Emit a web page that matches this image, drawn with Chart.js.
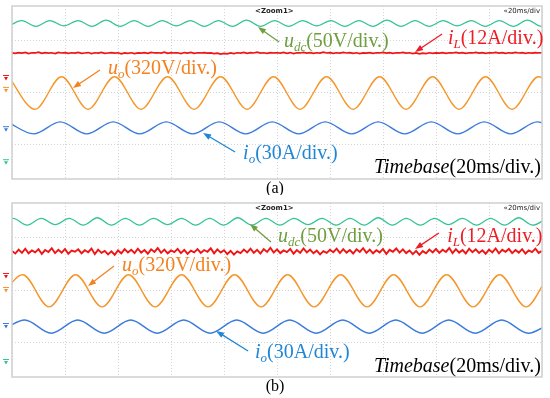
<!DOCTYPE html>
<html lang="en">
<head>
<meta charset="UTF-8">
<title>Scope captures</title>
<script src="https://cdn.jsdelivr.net/npm/chart.js"></script>
<style>
  body { margin: 0; background: #fff; }
  canvas { display: block; }
</style>
</head>
<body>
<canvas id="scopeA" width="550" height="195"></canvas>
<canvas id="scopeB" width="550" height="203"></canvas>
<script>
// time axis in ms (10 div x 20 ms), vertical axis in screen divisions
const gridTimes = [0, 20, 40, 60, 80, 100, 120, 140, 160, 180, 200];
const gridLevels = [-1, 0, 1];
const redStepMs = 1.25;

// ---- panel (a) ----
const udcA_t = [-1.6, 3.7, 9.0, 14.3, 19.6, 24.9, 30.2, 35.5, 40.8, 46.1, 51.4, 56.7, 62.0, 67.3, 72.6, 77.9, 83.2, 88.5, 93.8, 99.1,
  104.4, 109.7, 115.0, 120.3, 125.6, 130.9, 136.2, 141.5, 146.8, 152.1, 157.4, 162.7, 168.0, 173.3, 178.6, 183.9, 189.2, 194.5, 199.8, 205.1];
const udcA_v = [1.26, 1.37, 1.26, 1.37, 1.27, 1.37, 1.26, 1.38, 1.26, 1.37, 1.26, 1.37, 1.27, 1.37, 1.26, 1.37, 1.26, 1.38, 1.26, 1.37,
  1.26, 1.37, 1.27, 1.37, 1.26, 1.37, 1.26, 1.38, 1.26, 1.37, 1.26, 1.37, 1.27, 1.37, 1.26, 1.37, 1.26, 1.38, 1.26, 1.37];
const iLA_v = [
  0.758, 0.746, 0.762, 0.750, 0.766, 0.742, 0.758, 0.754, 0.770, 0.746,
  0.762, 0.750, 0.758, 0.742, 0.766, 0.754, 0.762, 0.746, 0.758, 0.750,
  0.766, 0.746, 0.754, 0.762, 0.742, 0.758, 0.750, 0.766, 0.746, 0.754,
  0.762, 0.750, 0.758, 0.738, 0.754, 0.746, 0.758, 0.742, 0.754, 0.750,
  0.762, 0.746, 0.766, 0.754, 0.758, 0.750, 0.770, 0.746, 0.762, 0.754,
  0.758, 0.742, 0.762, 0.750, 0.766, 0.746, 0.758, 0.754, 0.762, 0.750,
  0.754, 0.742, 0.750, 0.733, 0.746, 0.738, 0.754, 0.742, 0.758, 0.750,
  0.766, 0.746, 0.762, 0.754, 0.770, 0.750, 0.758, 0.746, 0.762, 0.754,
  0.758, 0.750, 0.766, 0.746, 0.762, 0.742, 0.758, 0.754, 0.766, 0.750,
  0.762, 0.746, 0.758, 0.750, 0.770, 0.754, 0.762, 0.746, 0.758, 0.750,
  0.766, 0.754, 0.762, 0.746, 0.758, 0.742, 0.754, 0.750, 0.762, 0.746,
  0.758, 0.754, 0.766, 0.750, 0.762, 0.746, 0.758, 0.754, 0.766, 0.750,
  0.758, 0.742, 0.754, 0.738, 0.750, 0.742, 0.758, 0.746, 0.754, 0.750,
  0.762, 0.746, 0.758, 0.754, 0.766, 0.750, 0.762, 0.746, 0.758, 0.754,
  0.766, 0.750, 0.762, 0.746, 0.758, 0.754, 0.766, 0.750, 0.762, 0.746,
  0.758, 0.750, 0.766, 0.754, 0.762, 0.746, 0.758, 0.750, 0.762, 0.754,
  0.758];
const uoA_t = [-1.3, 8.7, 18.7, 28.7, 38.7, 48.7, 58.7, 68.7, 78.7, 88.7, 98.7, 108.7, 118.7, 128.7, 138.7, 148.7, 158.7, 168.7, 178.7, 188.7, 198.7, 208.7];
const uoA_v = [0.30, -0.32, 0.30, -0.32, 0.30, -0.32, 0.30, -0.32, 0.30, -0.32, 0.30, -0.32, 0.30, -0.32, 0.30, -0.32, 0.30, -0.32, 0.30, -0.32, 0.30, -0.32];
const ioA_t = [-1.8, 8.2, 18.2, 28.2, 38.2, 48.2, 58.2, 68.2, 78.2, 88.2, 98.2, 108.2, 118.2, 128.2, 138.2, 148.2, 158.2, 168.2, 178.2, 188.2, 198.2, 208.2];
const ioA_v = [-0.56, -0.79, -0.56, -0.79, -0.56, -0.79, -0.56, -0.79, -0.56, -0.79, -0.56, -0.79, -0.56, -0.79, -0.56, -0.79, -0.56, -0.79, -0.56, -0.79, -0.56, -0.79];

// ---- panel (b) ----
const udcB_t = [-4.9, 0.4, 5.7, 11.0, 16.3, 21.6, 26.9, 32.2, 37.5, 42.8, 48.1, 53.4, 58.7, 64.0, 69.3, 74.6, 79.9, 85.2, 90.5, 95.8,
  101.1, 106.4, 111.7, 117.0, 122.3, 127.6, 132.9, 138.2, 143.5, 148.8, 154.1, 159.4, 164.7, 170.0, 175.3, 180.6, 185.9, 191.2, 196.5, 201.8];
const udcB_v = [1.23, 1.36, 1.23, 1.36, 1.24, 1.36, 1.23, 1.37, 1.23, 1.36, 1.23, 1.36, 1.24, 1.36, 1.23, 1.36, 1.23, 1.37, 1.23, 1.36,
  1.23, 1.36, 1.24, 1.36, 1.23, 1.36, 1.23, 1.37, 1.23, 1.36, 1.23, 1.36, 1.24, 1.36, 1.23, 1.36, 1.23, 1.37, 1.23, 1.36];
const iLB_v = [
  0.742, 0.692, 0.766, 0.704, 0.783, 0.696, 0.750, 0.713, 0.775, 0.684,
  0.758, 0.721, 0.792, 0.700, 0.762, 0.709, 0.779, 0.688, 0.746, 0.725,
  0.771, 0.696, 0.754, 0.717, 0.787, 0.680, 0.766, 0.704, 0.742, 0.676,
  0.734, 0.668, 0.750, 0.696, 0.775, 0.713, 0.762, 0.700, 0.783, 0.709,
  0.758, 0.688, 0.771, 0.721, 0.796, 0.704, 0.766, 0.696, 0.750, 0.717,
  0.779, 0.700, 0.762, 0.684, 0.746, 0.713, 0.775, 0.704, 0.758, 0.725,
  0.792, 0.696, 0.771, 0.709, 0.754, 0.680, 0.742, 0.672, 0.734, 0.700,
  0.766, 0.713, 0.783, 0.704, 0.762, 0.692, 0.775, 0.721, 0.800, 0.709,
  0.771, 0.700, 0.750, 0.717, 0.779, 0.688, 0.758, 0.704, 0.787, 0.713,
  0.766, 0.696, 0.746, 0.676, 0.738, 0.704, 0.762, 0.717, 0.783, 0.700,
  0.775, 0.709, 0.758, 0.692, 0.771, 0.721, 0.792, 0.704, 0.766, 0.696,
  0.754, 0.713, 0.779, 0.684, 0.762, 0.725, 0.787, 0.709, 0.771, 0.700,
  0.750, 0.680, 0.742, 0.668, 0.738, 0.696, 0.766, 0.713, 0.779, 0.704,
  0.762, 0.721, 0.796, 0.700, 0.775, 0.709, 0.758, 0.692, 0.783, 0.717,
  0.771, 0.704, 0.754, 0.688, 0.766, 0.713, 0.787, 0.696, 0.762, 0.725,
  0.779, 0.700, 0.758, 0.709, 0.775, 0.692, 0.750, 0.717, 0.783, 0.704,
  0.742];
const uoB_t = [-6, 4, 14, 24, 34, 44, 54, 64, 74, 84, 94, 104, 114, 124, 134, 144, 154, 164, 174, 184, 194, 204, 214];
const uoB_v = [-0.32, 0.29, -0.32, 0.29, -0.32, 0.29, -0.32, 0.29, -0.32, 0.29, -0.32, 0.29, -0.32, 0.29, -0.32, 0.29, -0.32, 0.29, -0.32, 0.29, -0.32, 0.29, -0.32];
const ioB_t = [-5.2, 4.8, 14.8, 24.8, 34.8, 44.8, 54.8, 64.8, 74.8, 84.8, 94.8, 104.8, 114.8, 124.8, 134.8, 144.8, 154.8, 164.8, 174.8, 184.8, 194.8, 204.8];
const ioB_v = [-0.82, -0.57, -0.82, -0.57, -0.82, -0.57, -0.82, -0.57, -0.82, -0.57, -0.82, -0.57, -0.82, -0.57, -0.82, -0.57, -0.82, -0.57, -0.82, -0.57, -0.82, -0.57];

// colours
const cUdc = '#33c493', cIL = '#f01414', cUo = '#f5962a', cIo = '#3a7bdc';
const tUdc = '#6f9f3f', tIL = '#ee1c25', tUo = '#f58220', tIo = '#1f86d6';

function pairs(ts, vs) { return ts.map((t, i) => ({x: t, y: vs[i]})); }
function redPairs(vs) { return vs.map((v, i) => ({x: i * redStepMs, y: v})); }

function richFont(p) {
  const size = p.sub ? 13 : 20;
  return (p.it ? 'italic ' : '') + size + 'px "Liberation Serif"';
}

function drawRich(ctx, parts, px, py, align) {
  let w = 0;
  parts.forEach(p => { ctx.font = richFont(p); w += ctx.measureText(p.t).width; });
  let cx = align === 'right' ? px - w : px;
  parts.forEach(p => {
    ctx.font = richFont(p);
    ctx.fillText(p.t, cx, py + (p.sub ? 5.5 : 0));
    cx += ctx.measureText(p.t).width;
  });
}

function drawArrow(ctx, x1, y1, x2, y2, color) {
  const ang = Math.atan2(y2 - y1, x2 - x1), L = 8, W = 3;
  ctx.strokeStyle = color; ctx.fillStyle = color; ctx.lineWidth = 1.3;
  ctx.beginPath();
  ctx.moveTo(x1, y1);
  ctx.lineTo(x2 - L * 0.8 * Math.cos(ang), y2 - L * 0.8 * Math.sin(ang));
  ctx.stroke();
  ctx.beginPath();
  ctx.moveTo(x2, y2);
  ctx.lineTo(x2 - L * Math.cos(ang) + W * Math.sin(ang), y2 - L * Math.sin(ang) - W * Math.cos(ang));
  ctx.lineTo(x2 - L * Math.cos(ang) - W * Math.sin(ang), y2 - L * Math.sin(ang) + W * Math.cos(ang));
  ctx.closePath();
  ctx.fill();
}

// frame, channel markers, labels with arrows, caption
const scopeNotes = {
  id: 'scopeNotes',
  afterDraw(chart, args, opts) {
    const {ctx, chartArea: a, scales: {x, y}} = chart;
    ctx.save();
    ctx.strokeStyle = '#cfcfcf';
    ctx.lineWidth = 1.5;
    ctx.strokeRect(a.left, a.top, a.right - a.left, a.bottom - a.top);

    // header texts
    ctx.fillStyle = '#222';
    ctx.textBaseline = 'middle';
    ctx.font = 'bold 7px "DejaVu Sans"';
    ctx.textAlign = 'center';
    ctx.fillText('<Zoom1>', x.getPixelForValue(99), y.getPixelForValue(opts.headY));
    ctx.textAlign = 'right';
    ctx.font = '7px "DejaVu Sans"';
    ctx.fillText('\u00AB20ms/div', x.getPixelForValue(199.3), y.getPixelForValue(opts.headY));

    // channel reference markers left of the grid
    opts.markers.forEach(m => {
      const py = y.getPixelForValue(m.y), px = a.left - 6;
      ctx.fillStyle = m.c; ctx.strokeStyle = m.c; ctx.lineWidth = 1;
      ctx.beginPath(); ctx.moveTo(px - 3, py - 2.5); ctx.lineTo(px + 3, py - 2.5); ctx.stroke();
      ctx.beginPath(); ctx.moveTo(px - 2, py - 1); ctx.lineTo(px + 2, py - 1); ctx.lineTo(px, py + 2.5); ctx.closePath(); ctx.fill();
    });

    // labels and arrows
    ctx.textAlign = 'left';
    opts.labels.forEach(l => {
      ctx.fillStyle = l.c;
      drawRich(ctx, l.parts, x.getPixelForValue(l.x), y.getPixelForValue(l.y), l.align);
      if (l.arrow) {
        const [x1, y1, x2, y2] = l.arrow;
        drawArrow(ctx, x.getPixelForValue(x1), y.getPixelForValue(y1), x.getPixelForValue(x2), y.getPixelForValue(y2), l.c);
      }
    });

    // caption
    ctx.fillStyle = '#000';
    ctx.textAlign = 'center';
    ctx.font = '16px "Liberation Serif"';
    ctx.fillText(opts.caption, chart.width / 2, a.bottom + opts.captionGap);
    ctx.restore();
  }
};

function trace(data, color, smooth, width) {
  return {
    data: data, borderColor: color, borderWidth: width, pointRadius: 0,
    cubicInterpolationMode: smooth ? 'monotone' : 'default', tension: 0, fill: false
  };
}

function makeScope(id, datasets, padding, notes) {
  return new Chart(document.getElementById(id), {
    type: 'line',
    data: {datasets: datasets},
    options: {
      responsive: false,
      animation: false,
      events: [],
      layout: {padding: padding},
      scales: {
        x: {
          type: 'linear', min: 0, max: 200,
          afterBuildTicks: axis => { axis.ticks = gridTimes.map(v => ({value: v})); },
          ticks: {display: false},
          grid: {color: '#d4d4d4', drawTicks: false, lineWidth: 1},
          border: {display: false, dash: [1, 2]}
        },
        y: {
          type: 'linear', min: -1.65, max: 1.65,
          afterBuildTicks: axis => { axis.ticks = gridLevels.map(v => ({value: v})); },
          ticks: {display: false},
          grid: {color: '#d4d4d4', drawTicks: false, lineWidth: 1},
          border: {display: false, dash: [1, 2]}
        }
      },
      plugins: {legend: {display: false}, tooltip: {enabled: false}, scopeNotes: notes}
    },
    plugins: [scopeNotes]
  });
}

const labelParts = {
  udc: [{t: 'u', it: true}, {t: 'dc', it: true, sub: true}, {t: '(50V/div.)'}],
  iL: [{t: 'i', it: true}, {t: 'L', it: true, sub: true}, {t: '(12A/div.)'}],
  uo: [{t: 'u', it: true}, {t: 'o', it: true, sub: true}, {t: '(320V/div.)'}],
  io: [{t: 'i', it: true}, {t: 'o', it: true, sub: true}, {t: '(30A/div.)'}],
  tb: [{t: 'Timebase', it: true}, {t: '(20ms/div.)'}]
};

makeScope('scopeA', [
  trace(pairs(udcA_t, udcA_v), cUdc, true, 1.3),
  trace(redPairs(iLA_v), cIL, false, 1.7),
  trace(pairs(uoA_t, uoA_v), cUo, true, 1.4),
  trace(pairs(ioA_t, ioA_v), cIo, true, 1.4)
], {left: 12, right: 8, top: 6, bottom: 16}, {
  headY: 1.555,
  caption: '(a)', captionGap: 10,
  markers: [{y: 0.277, c: cIL}, {y: 0.05, c: cUo}, {y: -0.70, c: cIo}, {y: -1.33, c: cUdc}],
  labels: [
    {parts: labelParts.udc, c: tUdc, x: 102.6, y: 0.964, arrow: [100.8, 0.964, 92.8, 1.25]},
    {parts: labelParts.iL, c: tIL, x: 164.5, y: 1.02, arrow: [162.3, 1.116, 152.1, 0.773]},
    {parts: labelParts.uo, c: tUo, x: 36.2, y: 0.448, arrow: [33.2, 0.43, 23.0, 0.086]},
    {parts: labelParts.io, c: tIo, x: 87.2, y: -1.174, arrow: [84.2, -1.135, 72.1, -0.773]},
    {parts: labelParts.tb, c: '#000', x: 199.6, y: -1.44, align: 'right'}
  ]
});

makeScope('scopeB', [
  trace(pairs(udcB_t, udcB_v), cUdc, true, 1.3),
  trace(redPairs(iLB_v), cIL, false, 1.9),
  trace(pairs(uoB_t, uoB_v), cUo, true, 1.4),
  trace(pairs(ioB_t, ioB_v), cIo, true, 1.4)
], {left: 12, right: 8, top: 8, bottom: 21}, {
  headY: 1.556,
  caption: '(b)', captionGap: 10,
  markers: [{y: 0.266, c: cIL}, {y: 0.0, c: cUo}, {y: -0.683, c: cIo}, {y: -1.366, c: cUdc}],
  labels: [
    {parts: labelParts.udc, c: tUdc, x: 100.4, y: 1.006, arrow: [97.7, 0.911, 89.8, 1.252]},
    {parts: labelParts.iL, c: tIL, x: 164.2, y: 1.006, arrow: [161.1, 1.082, 152.1, 0.778]},
    {parts: labelParts.uo, c: tUo, x: 41.5, y: 0.455, arrow: [38.5, 0.455, 28.7, 0.076]},
    {parts: labelParts.io, c: tIo, x: 91.7, y: -1.199, arrow: [89.1, -1.157, 77.0, -0.778]},
    {parts: labelParts.tb, c: '#000', x: 199.6, y: -1.461, align: 'right'}
  ]
});
</script>
</body>
</html>
